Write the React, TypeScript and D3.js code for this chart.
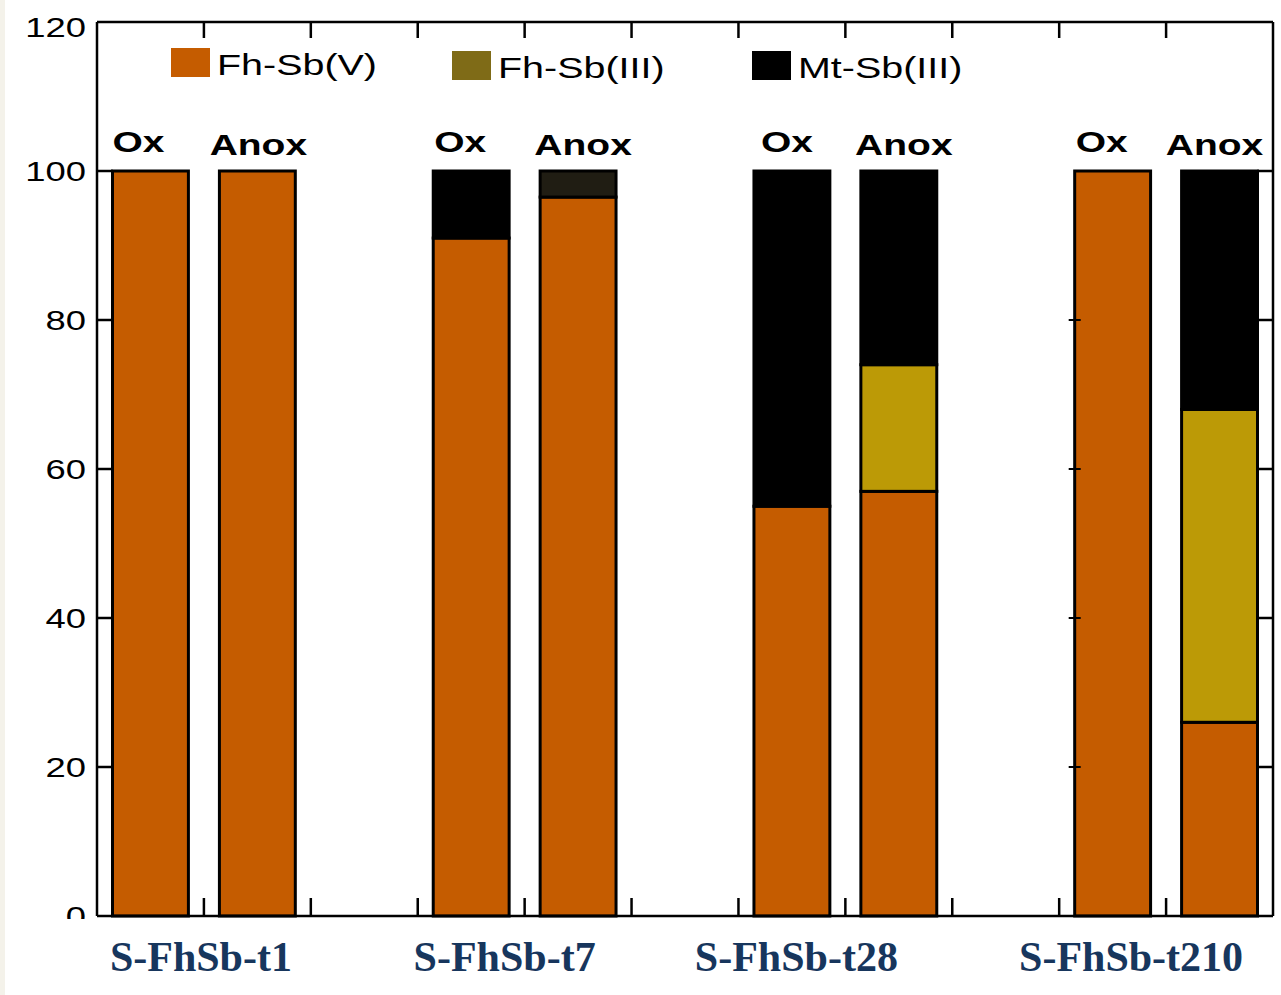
import React from "react";
import * as d3 from "d3";

// samples, two conditions each
const groups = ["S-FhSb-t1", "S-FhSb-t7", "S-FhSb-t28", "S-FhSb-t210"];
const conditions = ["Ox", "Anox"];
// percent of Sb, listed Ox, Anox for each sample
const fhSbV = [100, 100, 91, 96.5, 55, 57, 100, 26];
const fhSbIII = [0, 0, 0, 0, 0, 17, 0, 42];
const mtSbIII = [0, 0, 9, 3.5, 45, 26, 0, 32];
const yTicks = [0, 20, 40, 60, 80, 100, 120];
const seriesNames = ["Fh-Sb(V)", "Fh-Sb(III)", "Mt-Sb(III)"];

const W = 1281, H = 995;
const left = 97, right = 1273, top = 22, bottom = 916;
const barColors = ["#c55c00", "#bc9a06", "#000000"];
const legendColors = ["#c55c00", "#7f6b17", "#000000"];
const labelNudge = [-3, -20, -49, -35];
const condNudge = [[-12, 1], [-11, 5], [-5, 5], [-11, -5]];
const stretch = 1.3;

export default function App() {
  const x = d3.scaleLinear().domain([0, 11]).range([left, right]);
  const y = d3.scaleLinear().domain([0, 120]).range([bottom, top]);
  const barW = x(0.71) - x(0);

  const rows = fhSbV.map((v, i) => ({
    group: Math.floor(i / 2),
    cond: i % 2,
    v,
    iii: fhSbIII[i],
    mt: mtSbIII[i],
  }));
  const stacked = d3.stack<any>().keys(["v", "iii", "mt"])(rows);
  const slot = (r: any) => r.group * 3 + r.cond + 0.5;

  const sans = "'Liberation Sans', Arial, sans-serif";
  const sx = (px: number, py: number, k = stretch) => `translate(${px},${py}) scale(${k},1)`;

  return (
    <svg width={W} height={H} style={{ position: "absolute", left: 0, top: 0, background: "#fff" }}>
      <rect x={0} y={0} width={5} height={H} fill="#f4f2ea" />

      {/* bars */}
      {stacked.map((s, si) =>
        s.map((d, i) => {
          const h = y(d[0]) - y(d[1]);
          if (h <= 0) return null;
          const r = rows[i];
          let fill = barColors[si];
          if (si === 2 && r.group === 1 && r.cond === 1) fill = "#201d13";
          return (
            <rect key={`${si}-${i}`} x={x(slot(r)) - barW / 2} y={y(d[1])} width={barW} height={h}
              fill={fill} stroke="#000" strokeWidth={3} />
          );
        })
      )}

      {/* frame */}
      <line x1={left} x2={right} y1={top} y2={top} stroke="#000" strokeWidth={2.5} />
      <line x1={left} x2={right} y1={bottom} y2={bottom} stroke="#000" strokeWidth={2.5} />
      <line x1={left} x2={left} y1={top} y2={bottom} stroke="#000" strokeWidth={2.5} />
      <line x1={right} x2={right} y1={top} y2={bottom} stroke="#000" strokeWidth={2.5} />
      {d3.range(1, 11).map((t) => (
        <g key={t}>
          <line x1={x(t)} x2={x(t)} y1={top} y2={top + 16} stroke="#000" strokeWidth={2.5} />
          <line x1={x(t)} x2={x(t)} y1={bottom} y2={bottom - 18} stroke="#000" strokeWidth={2.5} />
        </g>
      ))}
      {yTicks.slice(1, -1).map((t) => (
        <g key={t}>
          <line x1={left} x2={left + 16} y1={y(t)} y2={y(t)} stroke="#000" strokeWidth={2.5} />
          <line x1={right} x2={right - 16} y1={y(t)} y2={y(t)} stroke="#000" strokeWidth={2.5} />
          {t < 100 && (
            <line x1={x(9.5) - barW / 2 - 6} x2={x(9.5) - barW / 2 + 6} y1={y(t)} y2={y(t)} stroke="#000" strokeWidth={2} />
          )}
        </g>
      ))}

      {/* y tick labels */}
      {yTicks.map((t) => (
        <text key={t} transform={sx(86, y(t) + 10 + (t === 120 ? 5 : 0))} textAnchor="end"
          fontFamily={sans} fontSize={28} fill="#000">{t}</text>
      ))}

      {/* Ox / Anox labels */}
      {rows.map((r, i) => (
        <text key={i} transform={sx(x(slot(r)) + condNudge[r.group][r.cond], r.cond === 0 ? 152 : 155)}
          textAnchor="middle" fontFamily={sans} fontWeight="bold" fontSize={30} fill="#000">
          {conditions[r.cond]}
        </text>
      ))}

      {/* legend */}
      {seriesNames.map((n, i) => {
        const lx = [171, 452, 752][i];
        const ly = i === 0 ? 48 : 51;
        return (
          <g key={n}>
            <rect x={lx} y={ly} width={39} height={29} fill={legendColors[i]} />
            <text transform={sx(lx + 46, ly + 27, 1.36)} fontFamily={sans} fontSize={29} fill="#000">{n}</text>
          </g>
        );
      })}

      {/* mask under the plot from the pasted label strip */}
      <rect x={5} y={919} width={W - 5} height={H - 919} fill="#fff" />

      {/* sample labels */}
      {groups.map((g, i) => (
        <text key={g} x={x(i * 3 + 1) + labelNudge[i]} y={971} textAnchor="middle"
          fontFamily="'Liberation Serif', 'Times New Roman', serif" fontWeight="bold" fontSize={42} fill="#17365d">
          {g}
        </text>
      ))}
    </svg>
  );
}
